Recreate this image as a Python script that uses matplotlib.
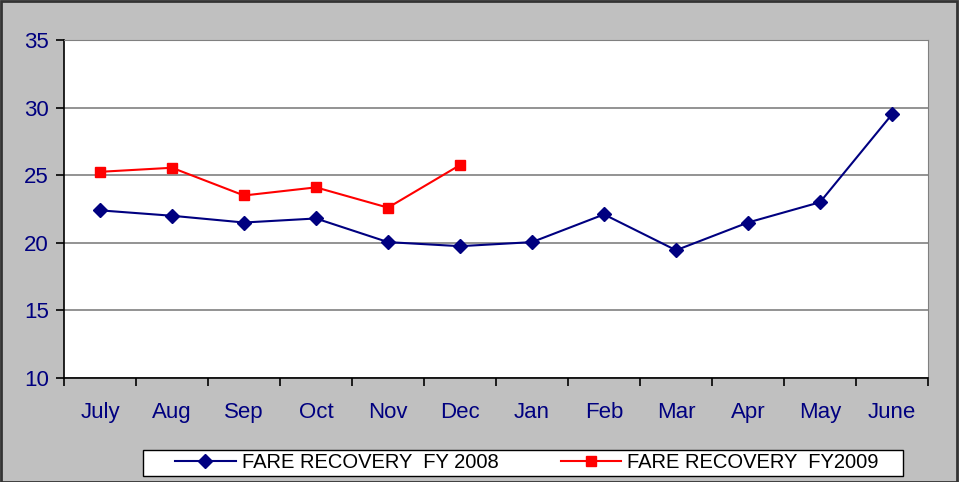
import numpy as np
import matplotlib.pyplot as plt
from matplotlib.patches import Rectangle

# ── Veri ─────────────────────────────────────────────────────────
months = ["July", "Aug", "Sep", "Oct", "Nov", "Dec",
          "Jan", "Feb", "Mar", "Apr", "May", "June"]
fy2008 = [22.4, 22.0, 21.5, 21.8, 20.05, 19.75,
          20.05, 22.1, 19.45, 21.5, 23.0, 29.5]
fy2009 = [25.25, 25.55, 23.5, 24.1, 22.6, 25.75]

plt.rcParams['font.family'] = ['Liberation Sans', 'DejaVu Sans']
navy = '#000080'

fig = plt.figure(figsize=(9.59, 4.82), dpi=100, facecolor='#C0C0C0')
ax = fig.add_axes([64 / 959, 104 / 482, 864 / 959, 338 / 482])
ax.set_facecolor('white')

x = np.arange(len(months))
ax.plot(x, fy2008, '-D', color=navy, lw=1.5, ms=7.5,
        label='FARE RECOVERY  FY 2008')
ax.plot(x[:len(fy2009)], fy2009, '-s', color='#FF0000', lw=1.5, ms=7.5,
        label='FARE RECOVERY  FY2009')

ax.set_xlim(-0.5, len(months) - 0.5)
ax.set_ylim(10, 35)
ax.set_yticks(range(10, 36, 5))
ax.yaxis.grid(True, color='#808080', lw=1.2)
ax.set_axisbelow(True)

# kategori çizgileri arada, etiketler ortada
ax.set_xticks(np.arange(-0.5, len(months)), minor=False)
ax.set_xticklabels([])
ax.set_xticks(x, minor=True)
ax.set_xticklabels(months, minor=True)
ax.tick_params(axis='x', which='minor', length=0, pad=17,
               labelsize=16, labelcolor=navy)
ax.tick_params(axis='x', which='major', length=6, width=1.2, direction='out')
ax.tick_params(axis='y', length=6, width=1.2, direction='out',
               labelsize=16, labelcolor=navy, pad=5)

for s in ['top', 'right']:
    ax.spines[s].set_color('#808080')
for s in ['left', 'bottom']:
    ax.spines[s].set_color('black')
    ax.spines[s].set_linewidth(1.2)

# lejant kutusu elle çiziliyor (Excel'deki gibi geniş)
fig.patches.append(Rectangle((143 / 959, 1 - 476 / 482), 760 / 959, 26 / 482,
                             transform=fig.transFigure, facecolor='white',
                             edgecolor='black', lw=1.0))
leg = fig.legend(loc='center', bbox_to_anchor=(527 / 959, 1 - 463 / 482),
                 ncol=2, frameon=False, fontsize=14.5,
                 handlelength=3.0, columnspacing=3.1,
                 borderpad=0.1, borderaxespad=0, handletextpad=0.3)

fig.patches.append(Rectangle((0.001, 0.001), 0.997, 0.997, transform=fig.transFigure,
                             fill=False, edgecolor='#333333', lw=2))

fig.savefig('out.png', dpi=100, facecolor=fig.get_facecolor())
